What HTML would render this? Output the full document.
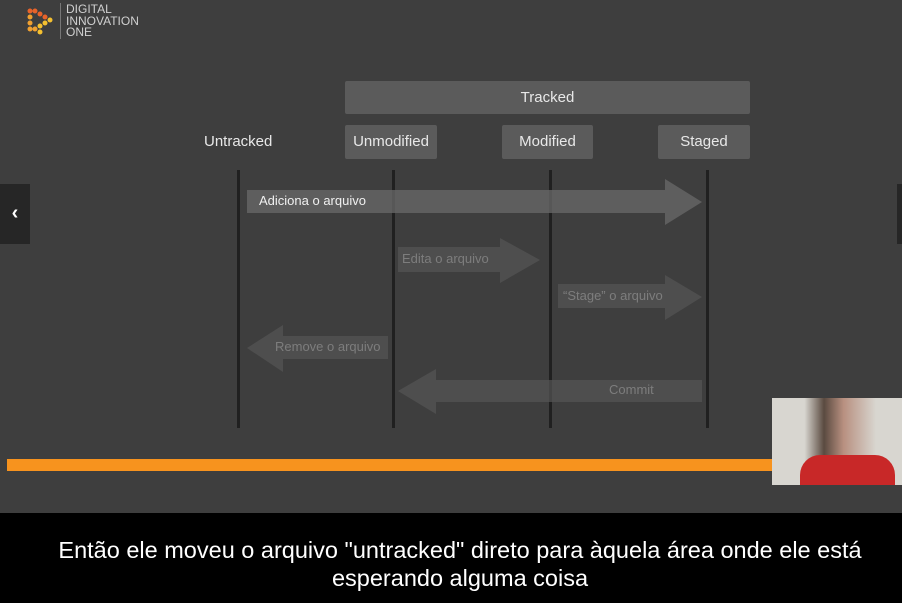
<!DOCTYPE html>
<html><head><style>
body{margin:0;width:902px;height:603px;background:#3e3e3e;overflow:hidden;position:relative;font-family:"Liberation Sans",sans-serif}
.a{position:absolute}
.box{position:absolute;background:#5b5b5b;color:#e8e8e8;font-size:15px;text-align:center;border-radius:2px}
.ln{position:absolute;top:170px;height:258px;width:3px;background:#202020}
</style></head><body>
<svg class="a" style="left:26px;top:5px" width="32" height="34">
<g fill="#e8632a"><circle cx="4" cy="6" r="2.5"/><circle cx="9" cy="6" r="2.5"/><circle cx="14" cy="9" r="2.5"/><circle cx="19" cy="12" r="2.5"/></g>
<g fill="#f0a030"><circle cx="4" cy="12" r="2.5"/><circle cx="4" cy="18" r="2.5"/><circle cx="4" cy="24" r="2.5"/><circle cx="9" cy="24" r="2.5"/></g>
<g fill="#f4c030"><circle cx="14" cy="21" r="2.5"/><circle cx="19" cy="18" r="2.5"/><circle cx="24" cy="15" r="2.5"/><circle cx="14" cy="27" r="2.5"/></g>
</svg>
<div class="a" style="left:60px;top:3px;width:1px;height:36px;background:#777"></div>
<div class="a" style="left:66px;top:4px;color:#d0d0d0;font-size:12px;line-height:11.5px">DIGITAL<br>INNOVATION<br>ONE</div>

<div class="box" style="left:345px;top:81px;width:405px;height:33px;line-height:33px">Tracked</div>
<div class="a" style="left:204px;top:133px;color:#e8e8e8;font-size:15px">Untracked</div>
<div class="box" style="left:345px;top:125px;width:92px;height:34px;line-height:34px">Unmodified</div>
<div class="box" style="left:502px;top:125px;width:91px;height:34px;line-height:34px">Modified</div>
<div class="box" style="left:658px;top:125px;width:92px;height:34px;line-height:34px">Staged</div>

<div class="ln" style="left:237px"></div>
<div class="ln" style="left:392px"></div>
<div class="ln" style="left:549px"></div>
<div class="ln" style="left:706px"></div>

<svg class="a" style="left:0;top:0" width="902" height="603">
<polygon points="247,190 665,190 665,179 702,202 665,225 665,213 247,213" fill="#6a6a6a" fill-opacity="0.75"/>
<polygon points="398,247 500,247 500,238 540,260 500,283 500,272 398,272" fill="#555" fill-opacity="0.7"/>
<polygon points="558,284 665,284 665,275 702,297 665,320 665,308 558,308" fill="#555" fill-opacity="0.7"/>
<polygon points="247,348 283,325 283,336 388,336 388,359 283,359 283,372" fill="#555" fill-opacity="0.7"/>
<polygon points="398,391 436,369 436,380 702,380 702,402 436,402 436,414" fill="#555" fill-opacity="0.7"/>
</svg>
<div class="a" style="left:259px;top:193px;color:#f0f0f0;font-size:13px">Adiciona o arquivo</div>
<div class="a" style="left:402px;top:251px;color:#7d7d7d;font-size:13px">Edita o arquivo</div>
<div class="a" style="left:563px;top:288px;color:#7d7d7d;font-size:13px">“Stage” o arquivo</div>
<div class="a" style="left:275px;top:339px;color:#7d7d7d;font-size:13px">Remove o arquivo</div>
<div class="a" style="left:609px;top:382px;color:#7d7d7d;font-size:13px">Commit</div>

<div class="a" style="left:0;top:184px;width:30px;height:60px;background:#262626;color:#fff;font-size:20px;line-height:58px;text-align:center;font-weight:bold">‹</div>
<div class="a" style="left:897px;top:184px;width:5px;height:60px;background:#262626"></div>

<div class="a" style="left:7px;top:459px;width:766px;height:12px;background:#f7931e"></div>
<div class="a" style="left:772px;top:398px;width:130px;height:87px;background:linear-gradient(90deg,#d8d6d0 0%,#d8d6d0 25%,#5a4a40 40%,#b89080 55%,#d8d6d0 80%)"></div>
<div class="a" style="left:800px;top:455px;width:95px;height:30px;background:#c82828;border-radius:20px 20px 0 0"></div>

<div class="a" style="left:0;top:513px;width:902px;height:90px;background:#000"></div>
<div class="a" style="left:18px;top:536px;width:884px;text-align:center;color:#fff;font-size:23.5px;line-height:28px;white-space:nowrap">Então ele moveu o arquivo "untracked" direto para àquela área onde ele está<br>esperando alguma coisa</div>
</body></html>
